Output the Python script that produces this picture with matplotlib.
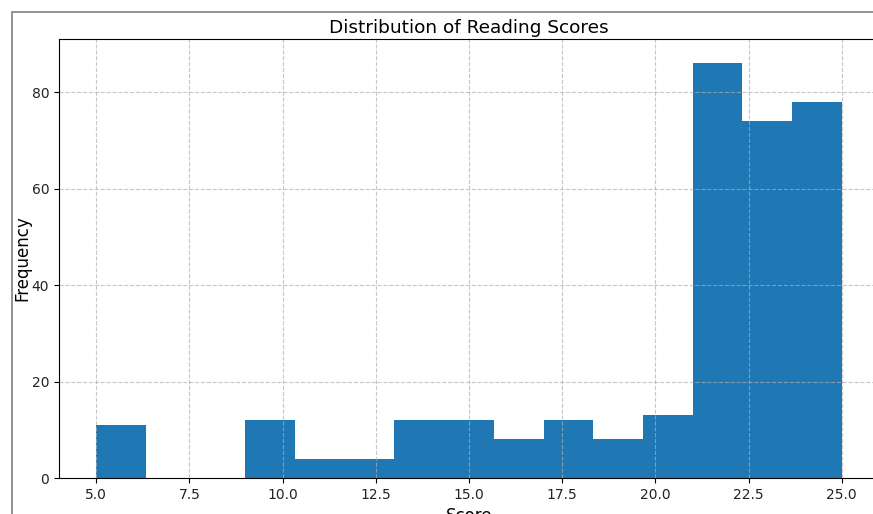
import matplotlib.pyplot as plt
import numpy as np
from matplotlib.patches import Rectangle

# histogram of reading scores, 15 bins between 5 and 25
score_min = 5
score_max = 25
counts = [11, 0, 0, 12, 4, 4, 12, 12, 8, 12, 8, 13, 86, 74, 78]
edges = np.linspace(score_min, score_max, len(counts) + 1)
centers = (edges[:-1] + edges[1:]) / 2

W, H = 873, 514
fig = plt.figure(figsize=(W / 100, H / 100), dpi=100)

# the screenshot shows the figure edge as a grey frame
fig.patches.append(Rectangle((12 / W, -0.1), 1.2, (H - 12) / H + 0.1,
                             transform=fig.transFigure, fill=False,
                             edgecolor='#808080', linewidth=1.2))

ax = fig.add_axes([59 / W, (H - 478) / H, (879 - 59) / W, (478 - 39) / H])
ax.hist(centers, bins=edges, weights=counts, color='#1f77b4')
ax.set_xlim(4, 26)
ax.set_ylim(0, 91)
ax.set_yticks([0, 20, 40, 60, 80])
ax.tick_params(labelcolor='#222222')

ax.set_title('Distribution of Reading Scores', fontsize=13.3, pad=4)
ax.set_xlabel('Score', fontsize=12)
ax.set_ylabel('Frequency', fontsize=12, labelpad=0)
ax.grid(True, linestyle='--', alpha=0.7)

fig.savefig('out.png', dpi=100)
